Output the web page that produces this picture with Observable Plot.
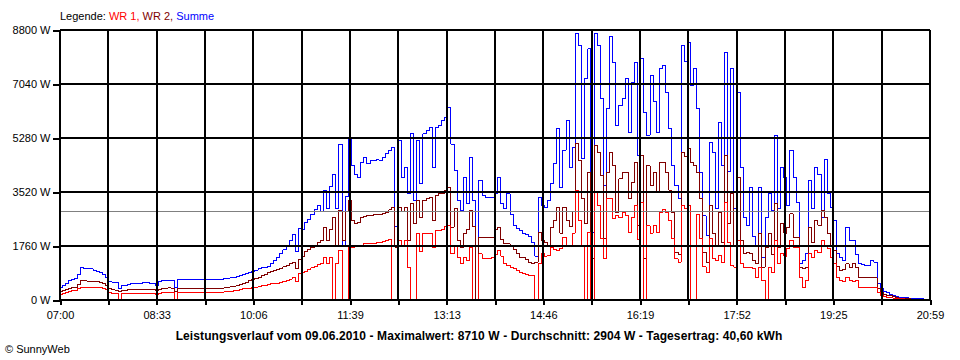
<!DOCTYPE html>
<html><head><meta charset="utf-8">
<script src="https://cdn.jsdelivr.net/npm/d3@7"></script>
<script src="https://cdn.jsdelivr.net/npm/@observablehq/plot@0.6"></script>
<style>
body{margin:0;background:#fff;font-family:"Liberation Sans",Arial,sans-serif;}
#wrap{position:relative;width:960px;height:360px;overflow:hidden;background:#fff}
#chart{position:absolute;left:0;top:0}
#chart svg{shape-rendering:crispEdges}
#chart svg text{shape-rendering:auto}
#legend{position:absolute;left:60px;top:10px;font-size:11px;line-height:13px;white-space:nowrap}
#caption{position:absolute;top:329px;left:0;width:958px;text-align:center;font-weight:bold;font-size:12px;letter-spacing:0.1px;line-height:14px;white-space:nowrap}
#copy{position:absolute;left:5px;top:343px;font-size:11px;line-height:13px}
</style></head>
<body><div id="wrap">
<div id="chart"></div>
<div id="legend"></div>
<div id="caption"></div>
<div id="copy">© SunnyWeb</div>
</div>
<script>
// ---- data (3-minute samples from 07:00) ----
const startMin = 420;       // 07:00
const stepMin = 3;
const endMin = 1259;        // 20:59
const average = 2904;
const tickLabels = ["07:00","08:33","10:06","11:39","13:13","14:46","16:19","17:52","19:25","20:59"];
const yTicks = [0, 1760, 3520, 5280, 7040, 8800];
const seriesNames = ["WR 1", "WR 2", "Summe"];
const seriesColors = ["#ff0000", "#800000", "#0000ff"];
const captionText = "Leistungsverlauf vom 09.06.2010 - Maximalwert: 8710 W - Durchschnitt: 2904 W - Tagesertrag: 40,60 kWh";

const summe = [
410,480,560,640,700,720,850,1070,1050,1030,1030,990,960,900,840,760,620,600,600,400,
490,490,530,550,550,540,560,600,580,560,560,490,620,650,660,660,650,420,680,680,
680,680,680,680,690,690,690,680,680,680,690,700,700,710,730,740,760,780,820,850,
870,900,950,990,1030,1060,1080,1120,1200,1300,1400,1520,1650,1800,1950,2150,1600,2350,2300,2550,
2650,2800,2950,3100,2900,3600,3000,3700,4100,3000,5100,1800,3400,5270,4400,4100,4000,4500,4650,4450,
4550,4560,4580,4560,4670,4780,4900,5000,2400,5215,4000,4345,3480,5430,3260,5215,3800,5430,5540,5650,
4345,5650,5700,5866,5975,6300,5100,4240,3260,2930,4020,3150,4670,3260,0,3910,3420,3370,3370,3370,
3500,4020,3150,3000,3480,2800,2450,2345,2280,2200,2150,2100,1900,1450,3370,3100,3040,3260,3800,4460,
5600,3690,4890,5866,4345,5000,8700,8300,4630,7235,8200,2225,8710,8310,6580,3750,6250,8600,7770,5700,
6355,6580,7235,5485,7115,7770,4725,7880,6140,5380,7330,6500,5485,7550,7660,6790,5595,4400,3750,3315,
8310,7800,8420,7000,7550,6250,4180,2770,2120,5160,4830,3000,5810,4400,8090,4200,7550,3000,6790,4345,
2700,2450,3690,2100,1800,3690,1410,2700,3500,2930,5380,3000,4345,4020,3100,4890,4020,3200,1195,1300,
1520,3910,3000,4345,4100,2700,4600,3500,3040,2607,1520,1400,1300,2390,1955,1955,1500,1195,1170,1140,
1140,1300,1250,560,380,300,250,210,170,140,110,100,90,80,70,60,55,50,0,0
];
const wr2 = [
290,320,360,400,420,440,520,650,640,630,630,620,610,600,560,480,380,360,340,300,
340,340,350,360,350,350,360,360,350,360,360,320,360,380,400,410,400,300,380,380,
380,380,380,380,380,380,380,380,380,380,390,390,400,410,430,450,470,500,530,570,
600,640,680,720,760,800,850,900,940,980,1000,1050,1100,1150,1200,1250,1050,1350,1420,1600,
1650,1720,1800,1880,1950,2390,1950,2300,2700,1750,2930,1950,2900,3260,2600,2500,2550,2700,2750,2770,
2780,2790,2800,2800,2830,2880,2950,3040,1740,3040,2900,3040,1955,3150,2500,3260,2700,3260,3320,3370,
2607,3420,3480,3500,3585,3690,2390,3000,1955,1740,2180,2300,2930,2400,0,2065,2050,2065,2065,2065,
2300,2390,2000,1850,1850,1800,1650,1520,1400,1400,1350,1250,1195,1250,2225,1955,1900,1800,2390,2607,
3040,2200,3040,2600,2400,2900,5110,4560,3315,2500,4180,1370,5050,4830,4070,2020,4180,4830,4400,2880,
3965,4180,4180,3315,3855,4510,2444,4725,1370,4400,3750,4180,3530,4510,4510,4180,3600,2880,1575,1500,
4830,4700,4945,4500,4400,4180,3315,1575,1250,3095,2200,1800,2880,1900,4725,2500,3500,1800,4020,1955,
1520,1550,1520,1300,1195,2180,1085,1740,2180,1500,3150,1740,2500,2200,2390,2825,2065,2065,1085,1050,
1085,2390,1900,2607,2450,2930,2700,2180,1800,1630,1100,980,1000,1195,1085,1195,1085,760,760,740,
740,760,740,400,250,200,170,150,120,100,80,70,60,50,40,35,30,25,0,0
];
const wr1 = [
185,220,260,300,320,340,380,440,440,440,440,430,430,420,400,360,260,240,240,0,
220,220,220,230,220,220,230,240,230,230,230,200,240,260,260,260,260,0,260,260,
260,260,260,260,260,260,260,260,260,260,260,260,270,280,290,300,320,340,360,380,
390,400,420,440,460,480,500,520,540,560,560,580,620,650,700,760,620,870,900,960,
1000,1060,1120,1180,1220,1410,1200,1400,0,1200,1630,0,0,1740,1740,1760,1790,1800,1850,1850,
1860,1870,1880,1900,1920,1955,1980,0,0,1955,1800,1955,1085,0,0,2180,1600,2180,2200,2180,
1740,2280,2280,2300,2400,2444,1530,1800,1410,1195,1400,1300,1740,0,0,1520,1370,1370,1370,1400,
1500,1630,1450,1195,1150,1085,1050,980,900,870,850,815,800,0,1195,1520,1450,1470,1740,1650,
1630,1700,2065,1800,1750,2200,3585,2607,1800,0,2225,0,3530,3095,2010,1360,3315,3315,2660,2770,
2700,2880,2770,2225,2700,3095,2000,3200,0,2444,2200,2444,2225,2880,2950,2880,2600,2010,1360,1250,
3100,3000,3095,0,0,2800,2010,1100,920,2010,1360,1300,1470,1250,3200,1900,1140,1085,1955,1195,
1085,1070,1060,1030,760,1085,650,0,1085,900,1955,1195,1520,1450,1700,1955,1740,1740,760,435,
650,1520,1400,1630,1550,1955,1800,1700,1410,1195,760,650,630,760,650,630,650,435,435,435,
435,440,420,250,160,120,110,100,80,70,60,50,40,35,30,25,20,15,0,0
];

// ---- build table ----
const rows = summe.map((v, i) => ({t: startMin + i * stepMin, wr1: wr1[i], wr2: wr2[i], summe: v}));
const gridCount = 18;
const gridX = d3.range(gridCount + 1).map(k => startMin + k * (endMin - startMin) / gridCount);
const fmtX = d => {
  const k = Math.round((d - startMin) / ((endMin - startMin) / gridCount));
  return k % 2 === 0 ? tickLabels[k / 2] : "";
};

const chart = Plot.plot({
  width: 960, height: 330,
  marginLeft: 60, marginRight: 30, marginTop: 30, marginBottom: 30,
  x: {domain: [startMin, endMin], axis: null},
  y: {domain: [0, 8800], axis: null},
  style: {fontFamily: '"Liberation Sans", Arial, sans-serif', fontSize: "11px", background: "white", color: "black"},
  marks: [
    Plot.line(rows, {x: "t", y: "summe", stroke: seriesColors[2], strokeWidth: 1, curve: "step"}),
    Plot.line(rows, {x: "t", y: "wr2", stroke: seriesColors[1], strokeWidth: 1, curve: "step"}),
    Plot.line(rows, {x: "t", y: "wr1", stroke: seriesColors[0], strokeWidth: 1, curve: "step"}),
    Plot.ruleY([average], {stroke: "#808080", strokeWidth: 1}),
    Plot.ruleX(gridX, {stroke: "black", strokeWidth: 2, dx: -0.5}),
    Plot.ruleY(yTicks, {stroke: "black", strokeWidth: 2, dy: -0.5}),
    Plot.axisY({ticks: yTicks, label: null, tickSize: 7, tickPadding: 3, tickFormat: d => d + " W", strokeWidth: 2, fontSize: 11}),
    Plot.axisX({ticks: gridX, label: null, tickSize: 5, tickPadding: 6, tickFormat: fmtX, strokeWidth: 2, fontSize: 11})
  ]
});
document.getElementById("chart").appendChild(chart);

const legend = document.getElementById("legend");
legend.innerHTML = 'Legende: ' + seriesNames.map((n, i) =>
  `<span style="color:${seriesColors[i]}">${n}${i < seriesNames.length - 1 ? "," : ""}</span>`).join(" ");
document.getElementById("caption").textContent = captionText;
</script>
</body></html>
